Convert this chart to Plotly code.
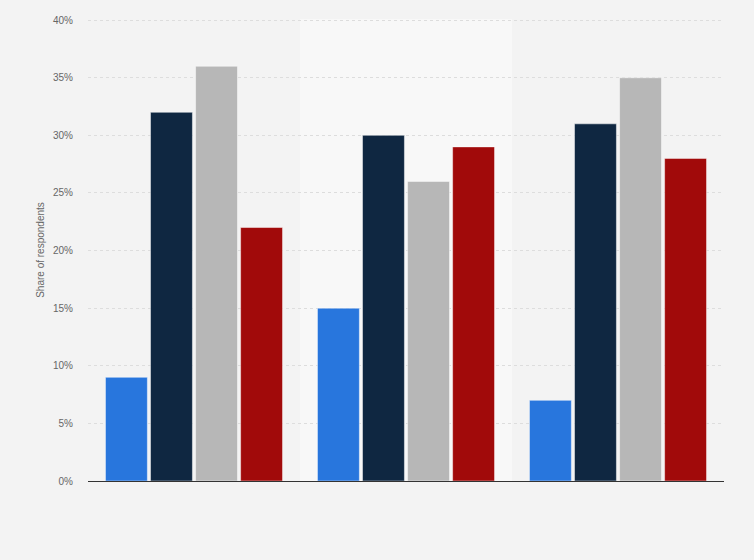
import plotly.graph_objects as go

# Andmed
categories = ["Group A", "Group B", "Group C"]
series_names = ["Series 1", "Series 2", "Series 3", "Series 4"]
series_values = [
    [9, 15, 7],
    [32, 30, 31],
    [36, 26, 35],
    [22, 29, 28],
]
series_colors = ["#2876dd", "#0f2741", "#b7b7b7", "#a10a0a"]
y_ticks = [0, 5, 10, 15, 20, 25, 30, 35, 40]

fig = go.Figure()
for name, vals, color in zip(series_names, series_values, series_colors):
    fig.add_trace(go.Bar(
        x=categories,
        y=vals,
        name=name,
        marker_color=color,
        marker_line=dict(color="rgba(255,255,255,0.45)", width=1),
    ))

# hele taust keskmise grupi taga
fig.add_shape(
    type="rect", xref="x", yref="paper",
    x0=0.5, x1=1.5, y0=0, y1=1,
    fillcolor="#f8f8f8", line_width=0, layer="below",
)

fig.update_layout(
    width=754, height=560,
    margin=dict(l=88, r=30, t=19, b=79),
    paper_bgcolor="#f3f3f3",
    plot_bgcolor="#f3f3f3",
    font=dict(family="Liberation Sans, Arial, sans-serif", size=10, color="#666666"),
    barmode="group",
    bargap=0.15,
    bargroupgap=0.07,
    showlegend=False,
    xaxis=dict(
        showticklabels=False,
        showgrid=False,
        showline=True,
        linecolor="#333333",
        linewidth=1,
        range=[-0.5, 2.5],
    ),
    yaxis=dict(
        range=[0, 40.1],  # väike varu, et 40% joon ka näha oleks
        tickvals=y_ticks,
        ticktext=[f"{v}%" for v in y_ticks],
        showgrid=True,
        gridcolor="#dddddd",
        griddash="dot",
        gridwidth=1,
        zeroline=False,
        ticks="",
        ticklabelstandoff=14,
        title=dict(text="Share of respondents", standoff=6,
                   font=dict(size=10, color="#666666")),
    ),
)

# lehe vaikimisi veeris maha, tööriistariba peidetud
fig.write_html(
    "out.html",
    config={"displayModeBar": False},
    post_script="document.body.style.margin='0';document.body.style.background='#f3f3f3';",
)
